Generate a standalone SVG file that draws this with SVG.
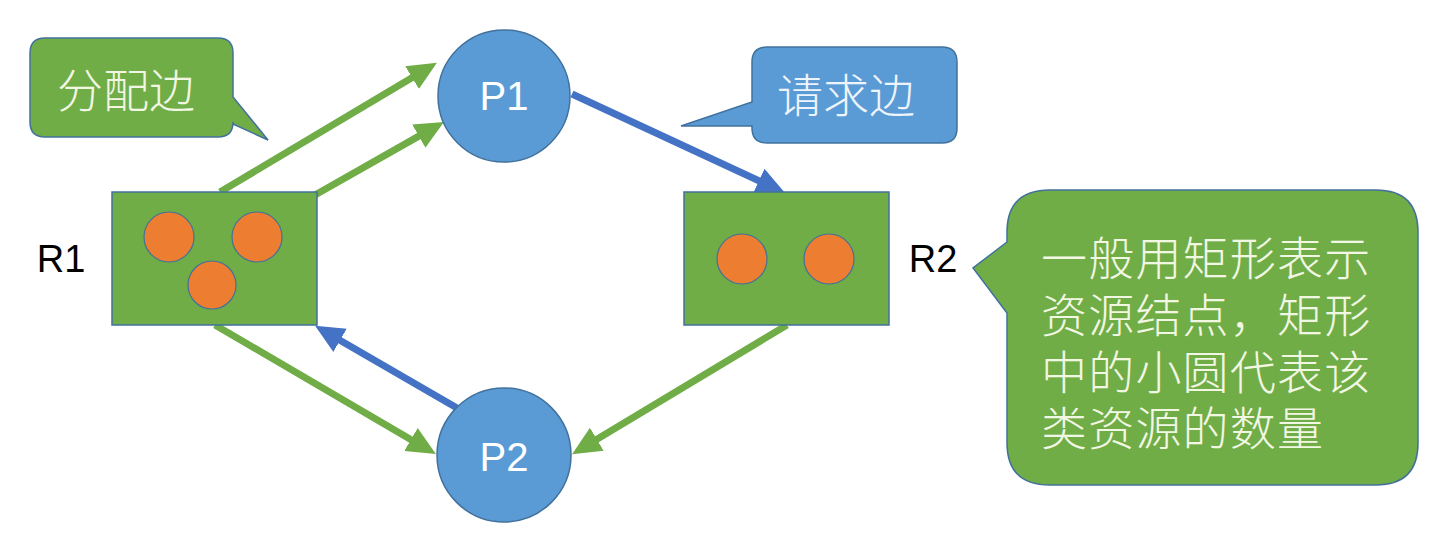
<svg xmlns="http://www.w3.org/2000/svg" width="1434" height="534" viewBox="0 0 1434 534">
  <style>
    .res { fill: #70AD47; stroke: #41719C; stroke-width: 1.5; }
    .tok { fill: #ED7D31; stroke: #41719C; stroke-width: 1.2; }
    .proc { fill: #5B9BD5; stroke: #41719C; stroke-width: 1.5; }
    .plabel { font-family: "Liberation Sans", Arial, sans-serif; font-size: 40px; fill: #FFFFFF; text-anchor: middle; dominant-baseline: central; }
    .rlabel { font-family: "Liberation Sans", Arial, sans-serif; font-size: 38px; fill: #000000; text-anchor: middle; dominant-baseline: central; }
    .cg { fill: #70AD47; stroke: #41719C; stroke-width: 1.5; }
    .cb { fill: #5B9BD5; stroke: #41719C; stroke-width: 1.5; }
    .ct { font-family: "Noto Sans CJK SC", "Noto Sans", sans-serif; font-weight: 300; dominant-baseline: central; }
    .green { stroke: #70AD47; stroke-width: 7; fill: none; }
    .blue { stroke: #4472C4; stroke-width: 7; fill: none; }
  </style>
  <defs>
    <marker id="ag" markerUnits="userSpaceOnUse" markerWidth="30" markerHeight="30" viewBox="0 -13 27 26" refX="6" refY="0" orient="auto">
      <path d="M0,-12 L26,0 L0,12 Z" fill="#70AD47"/>
    </marker>
    <marker id="ab" markerUnits="userSpaceOnUse" markerWidth="30" markerHeight="30" viewBox="0 -13 27 26" refX="6" refY="0" orient="auto">
      <path d="M0,-12 L26,0 L0,12 Z" fill="#4472C4"/>
    </marker>
  </defs>
  <rect width="1434" height="534" fill="#FFFFFF"/>

  <g id="connectors">
    <line class="green" x1="220" y1="192" x2="417.8" y2="74.2" marker-end="url(#ag)"/>
    <line class="green" x1="315" y1="195" x2="424.6" y2="132.9" marker-end="url(#ag)"/>
    <line class="blue" x1="572" y1="94" x2="764.9" y2="183.6" marker-end="url(#ab)"/>
    <line class="green" x1="787" y1="325" x2="591.1" y2="442.7" marker-end="url(#ag)"/>
    <line class="green" x1="215" y1="325" x2="416.7" y2="442.9" marker-end="url(#ag)"/>
    <line class="blue" x1="457" y1="408" x2="334.3" y2="337" marker-end="url(#ab)"/>
  </g>

  <g id="R1">
    <rect class="res" x="112" y="192" width="205" height="133"/>
    <circle class="tok" cx="169" cy="237" r="25"/>
    <circle class="tok" cx="257" cy="237" r="25"/>
    <circle class="tok" cx="212" cy="285" r="24"/>
    <text class="rlabel" x="61" y="259">R1</text>
  </g>

  <g id="R2">
    <rect class="res" x="684" y="192" width="205" height="133"/>
    <circle class="tok" cx="742" cy="259" r="25"/>
    <circle class="tok" cx="829" cy="259" r="25"/>
    <text class="rlabel" x="933" y="259">R2</text>
  </g>

  <g id="P1">
    <circle class="proc" cx="504" cy="96" r="66"/>
    <text class="plabel" x="504" y="96">P1</text>
  </g>

  <g id="P2">
    <circle class="proc" cx="504" cy="455" r="67"/>
    <text class="plabel" x="504" y="457">P2</text>
  </g>

  <g id="callout-alloc">
    <path class="cg" d="M45,38 H218 Q233,38 233,53 V97 L268,140 L233,124 V122 Q233,137 218,137 H45 Q30,137 30,122 V53 Q30,38 45,38 Z"/>
    <text class="ct" x="126" y="87" font-size="46" fill="#F2F7E4" text-anchor="middle">分配边</text>
  </g>

  <g id="callout-request">
    <path class="cb" d="M767,47 H942 Q957,47 957,62 V128 Q957,143 942,143 H767 Q752,143 752,128 V126 L681,126 L752,102 V62 Q752,47 767,47 Z"/>
    <text class="ct" x="846" y="92" font-size="46" fill="#EEF4FB" text-anchor="middle">请求边</text>
  </g>

  <g id="callout-note">
    <path class="cg" d="M1050,190 H1376 Q1418,190 1418,232 V443 Q1418,485 1376,485 H1050 Q1007,485 1007,443 V313 L973,268 L1007,242 V232 Q1007,190 1050,190 Z"/>
    <text class="ct" font-size="46" fill="#F2F7E4" letter-spacing="1.2">
      <tspan x="1041" y="255">一般用矩形表示</tspan>
      <tspan x="1041" y="312">资源结点，矩形</tspan>
      <tspan x="1041" y="369">中的小圆代表该</tspan>
      <tspan x="1041" y="425">类资源的数量</tspan>
    </text>
  </g>
</svg>
